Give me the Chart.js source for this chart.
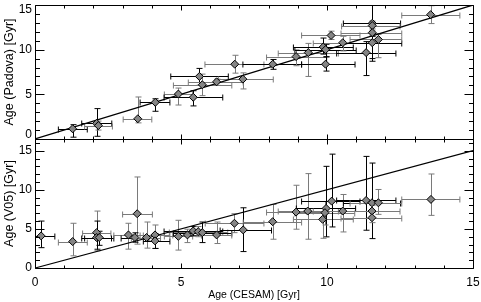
<!DOCTYPE html>
<html>
<head>
<meta charset="utf-8">
<script src="https://cdn.jsdelivr.net/npm/chart.js@4.4.1/dist/chart.umd.min.js"></script>
<style>
  body { margin: 0; background: #fff; }
  #wrap { width: 481px; height: 302px; }
</style>
</head>
<body>
<div id="wrap"><canvas id="ages" width="481" height="302"></canvas></div>
<script>
// top panel: Padova vs CESAM
const padX   = [1.29, 2.11, 2.17, 3.52, 4.12, 4.91, 5.42, 5.63, 5.73, 6.22, 7.12, 6.84, 8.14, 8.94, 9.36, 9.87, 9.95, 9.95, 10.54, 10.14, 11.34, 11.55, 11.55, 11.55, 11.55, 11.76, 13.55];
const padXLo = [0.80, 1.60, 1.70, 3.02, 3.60, 4.43, 4.42, 4.65, 4.74, 5.25, 6.28, 5.82, 7.12, 7.93, 8.33, 8.85, 8.90, 9.13, 9.53, 9.13, 10.33, 10.56, 10.50, 10.48, 10.55, 10.79, 12.56];
const padXHi = [1.79, 2.63, 2.65, 4.00, 4.62, 5.40, 6.43, 6.62, 6.74, 7.13, 8.16, 7.84, 9.13, 9.99, 10.39, 10.90, 11.00, 10.96, 11.53, 11.13, 12.36, 12.52, 12.50, 12.56, 12.56, 12.56, 14.55];
const padY   = [1.14, 1.75, 1.50, 2.26, 4.10, 5.03, 4.67, 7.00, 6.07, 6.40, 6.70, 8.37, 8.37, 9.22, 9.67, 10.30, 10.00, 8.37, 10.78, 11.59, 9.67, 12.95, 12.70, 11.90, 10.78, 11.14, 13.92];
const padYLo = [0.20, 0.30, 1.00, 1.80, 3.10, 3.80, 3.70, 6.00, 4.85, 6.00, 5.60, 7.37, 7.80, 8.20, 7.00, 9.50, 9.20, 7.60, 9.86, 11.14, 7.10, 8.70, 12.20, 11.50, 9.00, 9.10, 12.92];
const padYHi = [1.60, 3.40, 2.00, 4.70, 4.50, 5.70, 5.40, 7.90, 7.26, 6.70, 7.40, 9.37, 8.90, 9.97, 10.70, 11.30, 10.60, 9.20, 11.50, 12.07, 10.90, 17.0, 13.20, 12.40, 11.50, 11.70, 14.92];
const padTone = [0, 0, 1, 1, 0, 1, 0, 0, 1, 1, 1, 1, 0, 1, 1, 0, 0, 0, 1, 1, 0, 0, 1, 1, 0, 1, 1];

// bottom panel: V05 vs CESAM
const v05X   = [0.21, 1.29, 2.11, 2.11, 2.20, 3.50, 3.20, 3.42, 3.82, 4.11, 4.11, 4.91, 5.22, 5.42, 5.59, 5.73, 6.22, 6.83, 7.13, 8.14, 8.94, 9.34, 9.97, 9.93, 9.85, 10.16, 10.54, 11.34, 11.54, 11.54, 11.54, 11.76, 13.56];
const v05XLo = [-0.26, 0.80, 1.63, 1.60, 1.70, 3.00, 2.70, 2.95, 3.30, 3.60, 3.71, 4.43, 4.72, 4.42, 4.60, 4.74, 5.70, 5.83, 6.34, 7.13, 7.93, 8.33, 8.95, 8.90, 8.85, 9.13, 9.53, 10.33, 10.56, 10.50, 10.48, 10.79, 12.56];
const v05XHi = [0.68, 1.79, 2.60, 2.62, 2.70, 4.02, 3.71, 3.90, 4.30, 4.62, 4.62, 5.40, 5.72, 6.43, 6.60, 6.74, 6.74, 7.84, 8.10, 9.13, 9.99, 10.39, 10.98, 10.95, 10.90, 11.13, 11.53, 12.36, 12.52, 12.50, 12.56, 12.56, 14.55];
const v05Y   = [4.10, 3.38, 4.52, 3.90, 3.90, 6.94, 4.23, 3.90, 3.90, 4.23, 3.47, 4.05, 4.23, 4.74, 4.65, 4.52, 4.23, 5.72, 4.87, 5.92, 7.15, 7.28, 7.62, 7.07, 6.22, 8.55, 7.28, 8.64, 8.34, 7.28, 6.43, 8.34, 8.77];
const v05YLo = [2.60, 1.56, 2.20, 2.40, 2.90, 3.05, 2.41, 3.30, 2.54, 2.50, 2.50, 2.29, 3.25, 4.10, 4.00, 3.25, 3.13, 4.52, 2.10, 3.68, 4.96, 3.68, 3.98, 5.50, 3.80, 5.25, 4.61, 4.83, 3.76, 6.50, 5.80, 6.86, 6.73];
const v05YHi = [6.00, 5.72, 7.28, 6.00, 4.70, 11.64, 5.72, 4.50, 5.88, 5.50, 4.40, 6.10, 4.96, 5.30, 5.30, 5.88, 5.88, 6.94, 7.70, 8.13, 10.58, 12.07, 13.00, 8.50, 7.00, 14.56, 9.40, 14.27, 13.42, 8.00, 7.10, 10.04, 12.02];
const v05Tone = [0, 1, 1, 0, 0, 1, 1, 0, 1, 1, 0, 1, 1, 0, 1, 0, 1, 1, 0, 1, 1, 1, 0, 1, 1, 0, 1, 0, 0, 1, 1, 1, 1];

const xTicks = [0, 5, 10, 15];
const yTicks = [0, 5, 10, 15];
const oneToOne = [0, 15];

const toneColors = ['#000000', '#7a7a7a'];
const labelFont = { family: 'Liberation Sans, Arial, sans-serif', size: 12 };
const xTitleFont = { family: 'Liberation Sans, Arial, sans-serif', size: 10.5 };
const yTitleFont = { family: 'Liberation Sans, Arial, sans-serif', size: 12.5 };

const points = (xs, ys) => xs.map((x, i) => ({ x: x, y: ys[i] }));

// error bars are drawn under the markers, clipped to each panel
const errorBars = {
    id: 'errorBars',
    beforeDatasetsDraw(chart) {
        const ctx = chart.ctx;
        const xs = chart.scales.x;
        chart.data.datasets.forEach(ds => {
            if (!ds.err) return;
            const ys = chart.scales[ds.yAxisID];
            const e = ds.err;
            ctx.save();
            ctx.beginPath();
            ctx.rect(xs.left, ys.top, xs.right - xs.left, ys.bottom - ys.top);
            ctx.clip();
            ctx.lineWidth = 1;
            e.x.forEach((xv, i) => {
                const px = Math.round(xs.getPixelForValue(xv)) + 0.5;
                const py = Math.round(ys.getPixelForValue(e.y[i])) + 0.5;
                const x0 = xs.getPixelForValue(e.xlo[i]), x1 = xs.getPixelForValue(e.xhi[i]);
                const y0 = ys.getPixelForValue(e.ylo[i]), y1 = ys.getPixelForValue(e.yhi[i]);
                ctx.strokeStyle = toneColors[e.tone[i]];
                ctx.beginPath();
                ctx.moveTo(x0, py); ctx.lineTo(x1, py);
                ctx.moveTo(x0, py - 3); ctx.lineTo(x0, py + 3);
                ctx.moveTo(x1, py - 3); ctx.lineTo(x1, py + 3);
                ctx.moveTo(px, y0); ctx.lineTo(px, y1);
                ctx.moveTo(px - 3, y0); ctx.lineTo(px + 3, y0);
                ctx.moveTo(px - 3, y1); ctx.lineTo(px + 3, y1);
                ctx.stroke();
            });
            ctx.restore();
        });
    }
};

// boxed panels with inward tick marks and y tick labels
const panelFrame = {
    id: 'panelFrame',
    afterDraw(chart) {
        const ctx = chart.ctx;
        const xs = chart.scales.x;
        ctx.save();
        ctx.strokeStyle = '#000';
        ctx.lineWidth = 1;
        ['yTop', 'yBot'].forEach(id => {
            const ys = chart.scales[id];
            const l = Math.round(xs.left) + 0.5, r = Math.round(xs.right) + 0.5;
            const t = Math.round(ys.top) + 0.5, b = Math.round(ys.bottom) + 0.5;
            ctx.beginPath();
            ctx.rect(l, t, r - l, b - t);
            for (let v = xs.min; v <= xs.max; v++) {
                const len = v % 5 === 0 ? 5 : 3;
                const px = Math.round(xs.getPixelForValue(v)) + 0.5;
                ctx.moveTo(px, t); ctx.lineTo(px, t + len);
                ctx.moveTo(px, b); ctx.lineTo(px, b - len);
            }
            for (let v = Math.ceil(ys.min); v <= ys.max; v++) {
                const len = v % 5 === 0 ? 9 : 4.5;
                const py = Math.round(ys.getPixelForValue(v)) + 0.5;
                ctx.moveTo(l, py); ctx.lineTo(l + len, py);
                ctx.moveTo(r, py); ctx.lineTo(r - len, py);
            }
            ctx.stroke();

            ctx.fillStyle = '#000';
            ctx.font = labelFont.size + 'px ' + labelFont.family;
            ctx.textAlign = 'right';
            ctx.textBaseline = 'middle';
            yTicks.forEach(v => {
                let py = ys.getPixelForValue(v);
                if (id === 'yTop') py = Math.min(Math.max(py, ys.top + 4.5), ys.bottom - 4);
                ctx.fillText(String(v), xs.left - 3, py);
            });
        });
        ctx.restore();
    }
};

const fitY = s => { s.width = 35; s.paddingTop = 0; s.paddingBottom = 0; };

new Chart(document.getElementById('ages'), {
    type: 'scatter',
    data: {
        datasets: [
            {
                label: 'Padova',
                yAxisID: 'yTop',
                data: points(padX, padY),
                err: { x: padX, y: padY, xlo: padXLo, xhi: padXHi, ylo: padYLo, yhi: padYHi, tone: padTone },
                pointStyle: 'rectRot',
                pointRadius: 4,
                backgroundColor: '#858585',
                borderColor: '#000',
                borderWidth: 1
            },
            {
                label: 'V05',
                yAxisID: 'yBot',
                data: points(v05X, v05Y),
                err: { x: v05X, y: v05Y, xlo: v05XLo, xhi: v05XHi, ylo: v05YLo, yhi: v05YHi, tone: v05Tone },
                pointStyle: 'rectRot',
                pointRadius: 4,
                backgroundColor: '#858585',
                borderColor: '#000',
                borderWidth: 1
            },
            {
                type: 'line',
                yAxisID: 'yTop',
                data: points(oneToOne, oneToOne),
                borderColor: '#000',
                borderWidth: 1.2,
                pointRadius: 0
            },
            {
                type: 'line',
                yAxisID: 'yBot',
                data: points(oneToOne, oneToOne),
                borderColor: '#000',
                borderWidth: 1.2,
                pointRadius: 0
            }
        ]
    },
    plugins: [errorBars, panelFrame],
    options: {
        responsive: false,
        devicePixelRatio: 1,
        animation: false,
        layout: { padding: { top: 1, right: 8, left: 0, bottom: 0 } },
        plugins: { legend: { display: false }, tooltip: { enabled: false } },
        scales: {
            x: {
                type: 'linear',
                min: 0,
                max: 15,
                afterBuildTicks: s => { s.ticks = xTicks.map(v => ({ value: v })); },
                ticks: { font: labelFont, color: '#000', padding: 7, maxRotation: 0 },
                grid: { display: false, drawTicks: false },
                border: { display: false },
                title: { display: true, text: 'Age (CESAM) [Gyr]', font: xTitleFont, color: '#000', padding: { top: 0, bottom: 1 } },
                afterFit: s => { s.height = 34; s.paddingLeft = 0; s.paddingRight = 0; }
            },
            // left axes in one stack are laid out last-defined on top
            yBot: {
                type: 'linear',
                position: 'left',
                stack: 'ages',
                stackWeight: 131,
                min: 0,
                max: 16.5,
                ticks: { display: false },
                grid: { display: false, drawTicks: false },
                border: { display: false },
                title: { display: true, text: 'Age (V05) [Gyr]', font: yTitleFont, color: '#000', padding: { top: 2.5, bottom: 0 } },
                afterFit: fitY
            },
            yTop: {
                type: 'linear',
                position: 'left',
                stack: 'ages',
                stackWeight: 136,
                min: 0,
                max: 15,
                ticks: { display: false },
                grid: { display: false, drawTicks: false },
                border: { display: false },
                title: { display: true, text: 'Age (Padova) [Gyr]', font: yTitleFont, color: '#000', padding: { top: 2.5, bottom: 0 } },
                afterFit: fitY
            }
        }
    }
});
</script>
</body>
</html>
